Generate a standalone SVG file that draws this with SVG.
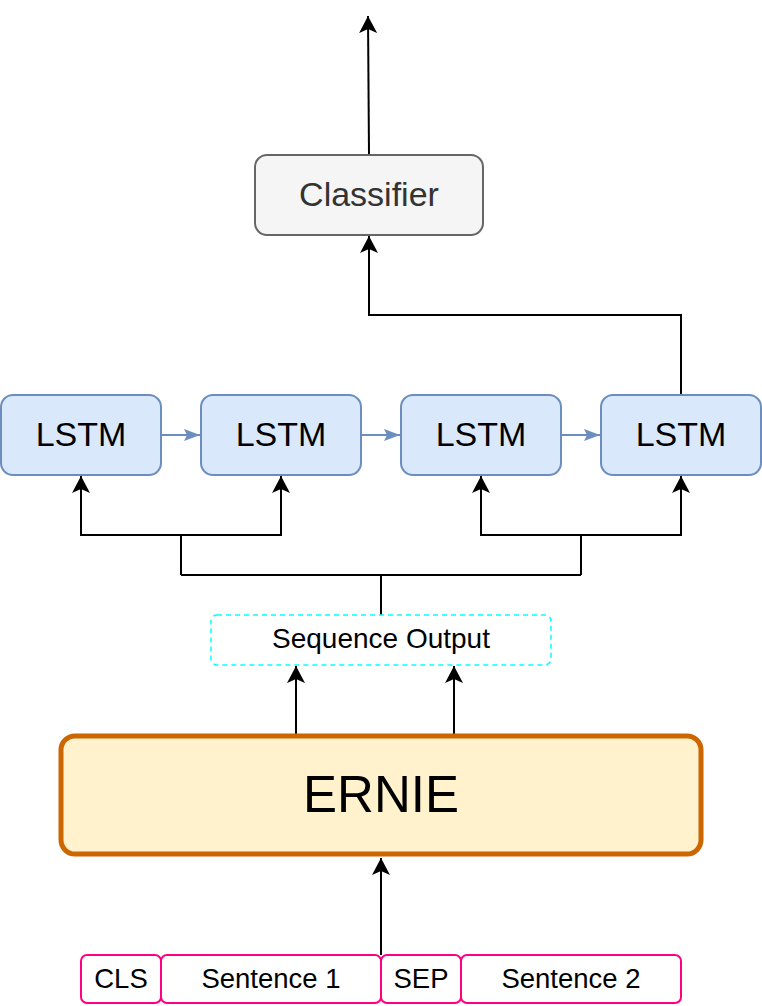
<svg xmlns="http://www.w3.org/2000/svg" width="762" height="1006" viewBox="0 0 762 1006">
<style>
text{font-family:"Liberation Sans",Arial,Helvetica,sans-serif;text-anchor:middle;fill:#000}
.lstm{fill:#dae8fc;stroke:#6c8ebf;stroke-width:2}
.tok{fill:#fff;stroke:#ff0080;stroke-width:2}
.conn{fill:none;stroke:#000;stroke-width:2}
.blue{fill:none;stroke:#6c8ebf;stroke-width:2}
</style>
<defs>
<marker id="ah" markerUnits="userSpaceOnUse" viewBox="0 0 17 18" markerWidth="17" markerHeight="18" refX="17" refY="9" orient="auto">
<path d="M0,0 L17,9 L0,18 L4,9 z" fill="#000"/>
</marker>
<marker id="ahb" markerUnits="userSpaceOnUse" viewBox="0 0 16 12" markerWidth="16" markerHeight="12" refX="16" refY="6" orient="auto">
<path d="M0,0 L16,6 L0,12 L3,6 z" fill="#6c8ebf"/>
</marker>
</defs>
<g id="connectors">
<path class="conn" d="M369,155 L368,16" marker-end="url(#ah)"/>
<path class="conn" d="M681,395 L681,315 L369,315 L369,236" marker-end="url(#ah)"/>
<path class="blue" d="M161,435 L200,435" marker-end="url(#ahb)"/>
<path class="blue" d="M361,435 L400,435" marker-end="url(#ahb)"/>
<path class="blue" d="M561,435 L600,435" marker-end="url(#ahb)"/>
<path class="conn" d="M381,615 L381,575 M181,575 L581,575"/>
<path class="conn" d="M181,575 L181,535 L81,535 L81,476" marker-end="url(#ah)"/>
<path class="conn" d="M181,535 L281,535 L281,476" marker-end="url(#ah)"/>
<path class="conn" d="M581,575 L581,535 L481,535 L481,476" marker-end="url(#ah)"/>
<path class="conn" d="M581,535 L681,535 L681,476" marker-end="url(#ah)"/>
<path class="conn" d="M296,734 L296,666" marker-end="url(#ah)"/>
<path class="conn" d="M454,734 L454,666" marker-end="url(#ah)"/>
<path class="conn" d="M381,955 L381,858" marker-end="url(#ah)"/>
</g>
<g id="classifier">
<rect x="255" y="155" width="228" height="80" rx="12" fill="#f5f5f5" stroke="#666666" stroke-width="2"/>
<text x="369" y="206" font-size="34" style="fill:#333333">Classifier</text>
</g>
<g id="lstm1"><rect class="lstm" x="1" y="395" width="160" height="80" rx="12"/><text x="81" y="446" font-size="34">LSTM</text></g>
<g id="lstm2"><rect class="lstm" x="201" y="395" width="160" height="80" rx="12"/><text x="281" y="446" font-size="34">LSTM</text></g>
<g id="lstm3"><rect class="lstm" x="401" y="395" width="160" height="80" rx="12"/><text x="481" y="446" font-size="34">LSTM</text></g>
<g id="lstm4"><rect class="lstm" x="601" y="395" width="160" height="80" rx="12"/><text x="681" y="446" font-size="34">LSTM</text></g>
<g id="sequence-output">
<rect x="211" y="615" width="340" height="50" rx="6" fill="#fff" stroke="#00ffff" stroke-width="1.5" stroke-dasharray="5,4"/>
<text x="381" y="648" font-size="28">Sequence Output</text>
</g>
<g id="ernie">
<rect x="61" y="736" width="640" height="118" rx="14" fill="#fff2cc" stroke="#cc6600" stroke-width="5"/>
<text x="381" y="812" font-size="51">ERNIE</text>
</g>
<g id="cls"><rect class="tok" x="81" y="955" width="80" height="48" rx="6"/><text x="121" y="988" font-size="27.5">CLS</text></g>
<g id="sentence1"><rect class="tok" x="161" y="955" width="220" height="48" rx="6"/><text x="271" y="988" font-size="27.5">Sentence 1</text></g>
<g id="sep"><rect class="tok" x="381" y="955" width="80" height="48" rx="6"/><text x="421" y="988" font-size="27.5">SEP</text></g>
<g id="sentence2"><rect class="tok" x="461" y="955" width="220" height="48" rx="6"/><text x="571" y="988" font-size="27.5">Sentence 2</text></g>
</svg>
